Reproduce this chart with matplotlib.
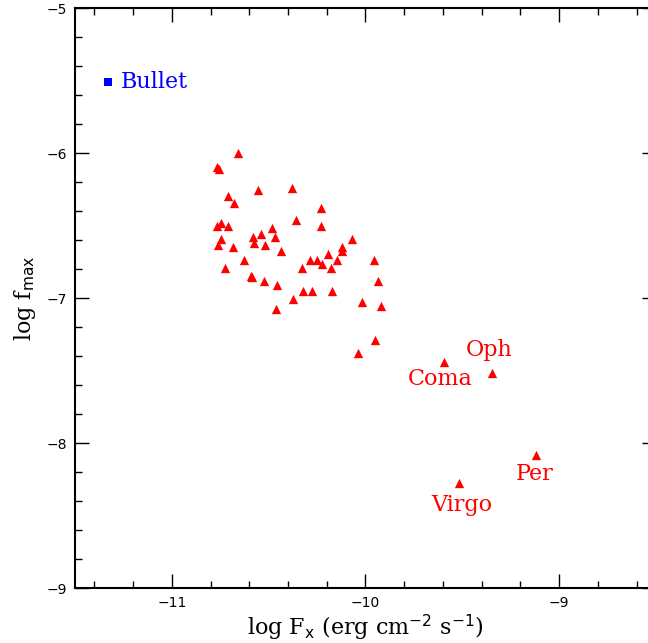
import numpy as np
import matplotlib
matplotlib.use('Agg')
import matplotlib.pyplot as plt
from matplotlib.ticker import MultipleLocator

# cluster sample: log F_x, log f_max
logfx = [-10.658, -10.766, -10.757, -10.555, -10.381, -10.711, -10.680, -10.231,
         -10.360, -10.231, -10.769, -10.745, -10.709, -10.484, -10.538, -10.467,
         -10.579, -10.576, -10.519, -10.745, -10.763, -10.685, -10.434, -10.068,
         -10.123, -10.123, -10.196, -10.148, -10.286, -10.248, -10.227, -10.179,
         -10.329, -9.958, -10.628, -10.726, -10.593, -10.585, -10.524, -10.455,
         -9.937, -10.320, -10.274, -10.175, -10.374, -10.018, -9.918, -10.462,
         -9.951, -10.037]
logfmax = [-6.002, -6.099, -6.112, -6.255, -6.239, -6.297, -6.343, -6.382,
           -6.462, -6.503, -6.503, -6.485, -6.503, -6.515, -6.561, -6.577,
           -6.582, -6.619, -6.634, -6.595, -6.634, -6.650, -6.674, -6.595,
           -6.650, -6.676, -6.697, -6.738, -6.738, -6.738, -6.766, -6.791,
           -6.791, -6.738, -6.738, -6.791, -6.846, -6.853, -6.881, -6.913,
           -6.881, -6.952, -6.952, -6.952, -7.009, -7.028, -7.055, -7.078,
           -7.290, -7.381]

# named clusters
names = ['Coma', 'Oph', 'Virgo', 'Per']
name_fx = [-9.592, -9.348, -9.519, -9.122]
name_fmax = [-7.439, -7.515, -8.278, -8.083]
# label offsets (data units)
name_dx = [-0.02, -0.015, 0.015, -0.005]
name_dy = [-0.12, 0.16, -0.15, -0.13]

bullet_fx, bullet_fmax = -11.331, -5.508

fig = plt.figure(figsize=(6.48, 6.43), dpi=100)
ax = fig.add_axes([0.1157, 0.0855, 0.8966, 0.902])

ax.scatter(logfx, logfmax, marker='^', s=45, color='red', linewidths=0)
ax.scatter(name_fx, name_fmax, marker='^', s=45, color='red', linewidths=0)
for n, x, y, dx, dy in zip(names, name_fx, name_fmax, name_dx, name_dy):
    ax.text(x + dx, y + dy, n, color='red', family='DejaVu Serif', fontsize=16,
            ha='center', va='center')

ax.scatter([bullet_fx], [bullet_fmax], marker='s', s=40, color='blue', linewidths=0)
ax.text(bullet_fx + 0.07, bullet_fmax, 'Bullet', color='blue', family='DejaVu Serif',
        fontsize=16, ha='left', va='center')

ax.set_xlim(-11.5, -8.5)
ax.set_ylim(-9, -5)
ax.xaxis.set_major_locator(MultipleLocator(1))
ax.xaxis.set_minor_locator(MultipleLocator(0.2))
ax.yaxis.set_major_locator(MultipleLocator(1))
ax.yaxis.set_minor_locator(MultipleLocator(0.2))
ax.tick_params(which='both', direction='in', top=True, right=True, width=1)
ax.tick_params(which='major', length=10, labelsize=10, pad=6)
ax.tick_params(which='minor', length=5)
for sp in ax.spines.values():
    sp.set_linewidth(1.5)

ax.set_xlabel(r'log F$_{\rm x}$ (erg cm$^{-2}$ s$^{-1}$)', family='DejaVu Serif',
              fontsize=16, labelpad=2)
ax.set_ylabel(r'log f$_{\rm max}$', family='DejaVu Serif', fontsize=16, labelpad=6)

fig.savefig('out.png', dpi=100)
